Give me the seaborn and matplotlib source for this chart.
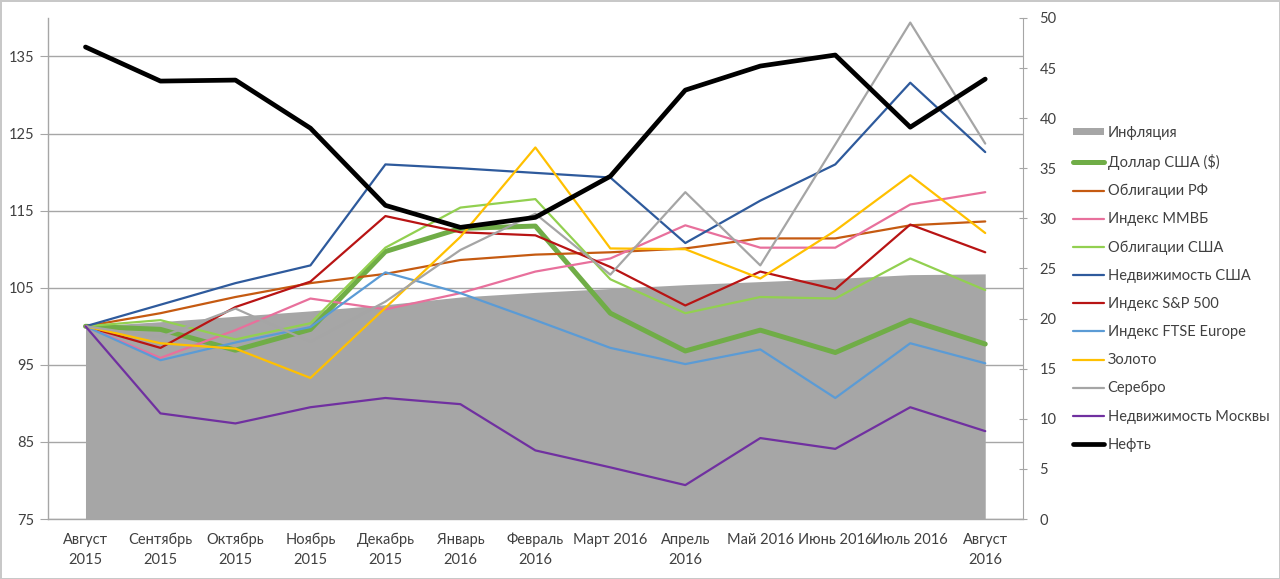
import numpy as np
import pandas as pd
import seaborn as sns
import matplotlib.pyplot as plt
from matplotlib.patches import Patch
from matplotlib.lines import Line2D

months = ["Август\n2015", "Сентябрь\n2015", "Октябрь\n2015", "Ноябрь\n2015",
          "Декабрь\n2015", "Январь\n2016", "Февраль\n2016", "Март 2016",
          "Апрель\n2016", "Май 2016", "Июнь 2016", "Июль 2016", "Август\n2016"]

inflation = [100.0, 100.6, 101.3, 102.0, 102.8, 103.8, 104.4, 104.9, 105.4, 105.8, 106.2, 106.7, 106.8]
dollar = [100, 99.6, 96.9, 99.6, 109.7, 112.7, 113.0, 101.7, 96.8, 99.5, 96.6, 100.8, 97.7]
rf_bonds = [100, 101.7, 103.8, 105.6, 106.8, 108.6, 109.3, 109.6, 110.1, 111.4, 111.4, 113.1, 113.6]
micex = [100, 95.9, 99.5, 103.6, 102.2, 104.3, 107.1, 108.8, 113.1, 110.2, 110.2, 115.8, 117.4]
us_bonds = [100, 100.8, 98.3, 100.4, 110.2, 115.4, 116.5, 106.1, 101.7, 103.8, 103.6, 108.8, 104.7]
us_realty = [100, 102.8, 105.6, 107.9, 121.0, 120.5, 119.9, 119.3, 110.8, 116.3, 121.0, 131.6, 122.6]
sp500 = [100, 97.2, 102.5, 105.8, 114.3, 112.2, 111.8, 107.7, 102.7, 107.1, 104.8, 113.2, 109.6]
ftse = [100, 95.6, 97.9, 99.9, 107.0, 104.3, 100.8, 97.2, 95.1, 97.0, 90.7, 97.8, 95.2]
gold = [100, 97.8, 97.1, 93.3, 102.4, 111.6, 123.2, 110.1, 110.0, 106.2, 112.4, 119.6, 112.1]
silver = [100, 98.6, 102.3, 98.0, 103.2, 109.9, 114.6, 106.7, 117.4, 107.9, 123.6, 139.4, 123.7]
moscow = [100, 88.7, 87.4, 89.5, 90.7, 89.9, 83.9, 81.7, 79.4, 85.5, 84.1, 89.5, 86.4]
oil = [47.1, 43.7, 43.8, 39.0, 31.3, 29.1, 30.1, 34.2, 42.8, 45.2, 46.3, 39.1, 43.9]

# name, values, colour, width (left axis lines)
series = [
    ("Доллар США ($)", dollar, "#70AD47", 3.6),
    ("Облигации РФ", rf_bonds, "#C55A11", 1.6),
    ("Индекс ММВБ", micex, "#E8709C", 1.6),
    ("Облигации США", us_bonds, "#92D050", 1.6),
    ("Недвижимость США", us_realty, "#2E5A9C", 1.6),
    ("Индекс S&P 500", sp500, "#B81414", 1.6),
    ("Индекс FTSE Europe", ftse, "#5B9BD5", 1.6),
    ("Золото", gold, "#FFC000", 1.6),
    ("Серебро", silver, "#A5A5A5", 1.6),
    ("Недвижимость Москвы", moscow, "#7030A0", 1.6),
]

sns.set_style("white")
plt.rcParams["font.family"] = ["Lato", "DejaVu Sans"]
plt.rcParams["font.size"] = 10.5
text_color = "#404040"

fig = plt.figure(figsize=(12.8, 5.79), dpi=100)
fig.patch.set_edgecolor("#C8C8C8")
fig.patch.set_linewidth(2)
ax = fig.add_axes([0.0375, 0.1036, 0.7615, 0.8654])

x = np.arange(len(months))

# inflation area
ax.fill_between(x, 75, inflation, color="#A6A6A6", lw=0, zorder=1)

for name, vals, col, lw in series:
    df = pd.DataFrame({"x": x, "y": vals})
    sns.lineplot(data=df, x="x", y="y", ax=ax, color=col, linewidth=lw, zorder=3)

ax.set_xlim(-0.5, len(months) - 0.5)
ax.set_ylim(75, 140)
ax.set_yticks(np.arange(75, 136, 10))
ax.yaxis.grid(True, color="#A6A6A6", linewidth=1)
ax.xaxis.grid(False)
ax.set_axisbelow(True)
ax.set_xlabel("")
ax.set_ylabel("")
ax.set_xticks(x)
ax.set_xticklabels(months, color=text_color, linespacing=1.55)
ax.set_xticks(np.arange(-0.5, len(months), 1), minor=True)
ax.tick_params(axis="x", which="major", length=0, pad=10)
ax.tick_params(axis="x", which="minor", length=5, color="#A6A6A6", direction="out")
ax.tick_params(axis="y", length=6, color="#A6A6A6", colors=text_color, direction="out", pad=4)
ax.tick_params(axis="x", colors=text_color)
for s in ["top", "right"]:
    ax.spines[s].set_visible(False)
for s in ["left", "bottom"]:
    ax.spines[s].set_color("#A6A6A6")
    ax.spines[s].set_linewidth(1)

# oil on right axis
ax2 = ax.twinx()
sns.lineplot(x=x, y=oil, ax=ax2, color="black", linewidth=3.4)
ax2.set_ylim(0, 50)
ax2.set_yticks(np.arange(0, 51, 5))
ax2.set_ylabel("")
ax2.tick_params(axis="y", length=6, color="#A6A6A6", colors=text_color, direction="inout", pad=9)
for s in ["top", "left", "bottom"]:
    ax2.spines[s].set_visible(False)
ax2.spines["right"].set_color("#A6A6A6")
ax2.grid(False)
ax2.set_xlim(-0.5, len(months) - 0.5)

handles = [Patch(facecolor="#A6A6A6", edgecolor="none", label="Инфляция")]
for name, vals, col, lw in series:
    handles.append(Line2D([0], [0], color=col, lw=lw, label=name))
handles.append(Line2D([0], [0], color="black", lw=3.4, label="Нефть"))

leg = fig.legend(handles=handles, loc="upper left", bbox_to_anchor=(0.834, 0.793),
                 frameon=False, handlelength=2.1, handleheight=0.45, handletextpad=0.25,
                 labelspacing=0.965, fontsize=10.5, borderaxespad=0)
for t in leg.get_texts():
    t.set_color(text_color)

fig.savefig("out.png", dpi=100, edgecolor=fig.get_edgecolor())
